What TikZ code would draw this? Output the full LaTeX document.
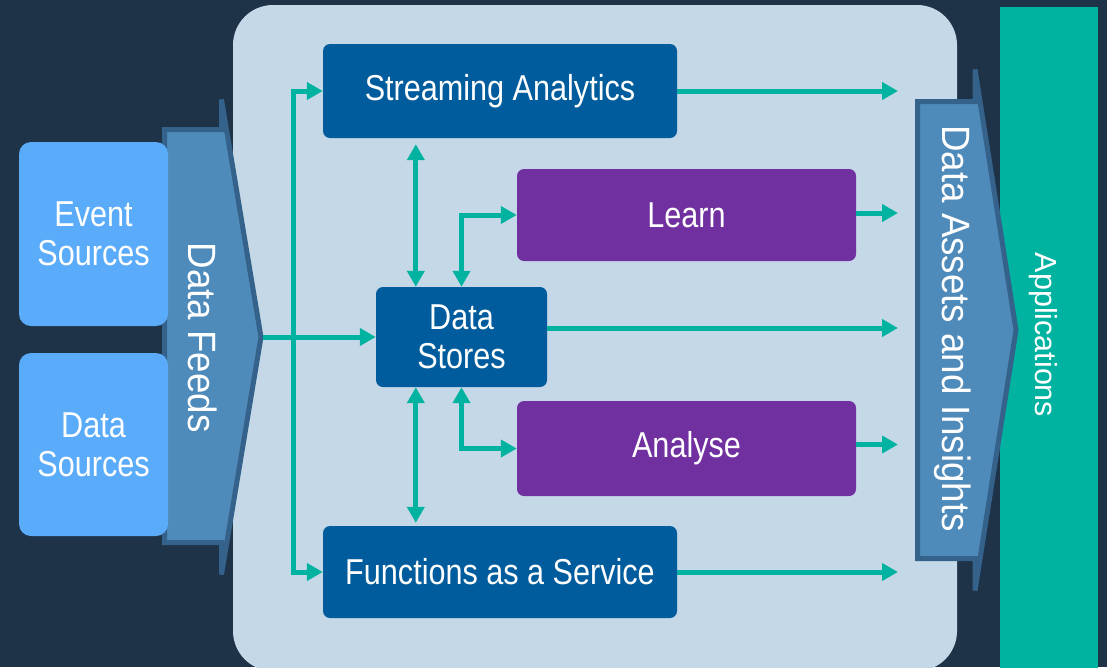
\documentclass[tikz,border=0pt]{standalone}
\usepackage{fontspec}
\usetikzlibrary{arrows.meta,calc}
\newfontfamily\boxfont[FakeStretch=0.85]{Liberation Sans}
\newfontfamily\rotfont[FakeStretch=0.93]{Liberation Sans}
\newfontfamily\appfont{Liberation Sans}
\definecolor{bgnavy}{HTML}{1E3348}
\definecolor{panelc}{HTML}{C5D8E8}
\definecolor{srcblue}{HTML}{5AABF9}
\definecolor{arrfill}{HTML}{4E8BBB}
\definecolor{arrborder}{HTML}{35628B}
\definecolor{darkblue}{HTML}{005C9C}
\definecolor{purp}{HTML}{7030A0}
\definecolor{tealc}{HTML}{00B2A0}
\tikzset{
  boxbase/.style={rectangle, rounded corners=7pt, inner sep=0pt, text=white, align=center,
    font=\boxfont\fontsize{36}{39}\selectfont},
  procbox/.style={boxbase, fill=darkblue},
  mlbox/.style={boxbase, fill=purp},
  srcbox/.style={boxbase, fill=srcblue, rounded corners=12pt},
  conn/.style={draw=tealc, line width=5pt, -{Triangle[length=16pt,width=17pt]}},
  biconn/.style={draw=tealc, line width=5pt, {Triangle[length=16pt,width=17pt]}-{Triangle[length=16pt,width=17pt]}},
  bigarrow/.style={fill=arrfill, draw=arrborder, line width=5pt, line join=miter},
  rottext/.style={text=white, rotate=-90, anchor=base, inner sep=0pt, font=\rotfont\fontsize{39.5}{44}\selectfont},
}
\begin{document}
\begin{tikzpicture}[x=1pt,y=-1pt]
\useasboundingbox (0,0) rectangle (1107,667);
\fill[bgnavy] (0,0) rectangle (1107,667);
% central panel
\fill[panelc, rounded corners=40pt] (233,5) rectangle (957,671);
% applications bar
\fill[tealc] (1000,7) rectangle (1098,671);
\node[text=white, rotate=-90, anchor=base, inner sep=0pt, font=\appfont\fontsize{30.5}{34}\selectfont] (apps) at (1035,335) {Applications};
% data feeds arrow
\draw[bigarrow] (164.5,129.5) -- (221.5,129.5) -- (221.5,99.5) -- (261,337) -- (221.5,574.5) -- (221.5,542.5) -- (164.5,542.5) -- cycle;
\coordinate (ftip) at (263,337);
\node[rottext] (feeds) at (188,337.5) {Data Feeds};
% data assets arrow
\draw[bigarrow] (917.5,101.5) -- (975,101.5) -- (975,69.5) -- (1016,330) -- (975,590.5) -- (975,558.5) -- (917.5,558.5) -- cycle;
\node[rottext] (assets) at (942,328.5) {Data Assets and Insights};
% sources
\node[srcbox, minimum width=149pt, minimum height=184pt] (evsrc) at (93.5,234) {Event\\Sources};
\node[srcbox, minimum width=149pt, minimum height=183pt] (dtsrc) at (93.5,444.5) {Data\\Sources};
% processing boxes
\node[procbox, minimum width=354pt, minimum height=94pt] (stream) at (500,91) {Streaming Analytics};
\node[mlbox, minimum width=339pt, minimum height=92pt] (learn) at (686.5,215) {Learn};
\node[procbox, minimum width=171pt, minimum height=100pt] (stores) at (461.5,337) {Data\\Stores};
\node[mlbox, minimum width=339pt, minimum height=95pt] (analyse) at (686.5,448.5) {Analyse};
\node[procbox, minimum width=354pt, minimum height=92pt] (faas) at (500,572) {Functions as a Service};
% connectors
\draw[conn] (ftip) -- (stores.west);
\draw[biconn, line join=miter] (stream.west) -- ++(-29,0) |- (faas.west);
\coordinate (sx) at ($(stores.north west)+(40,0)$);
\coordinate (sxb) at ($(stores.south west)+(40,0)$);
\draw[biconn, shorten <=6pt] (sx |- stream.south) -- (sx);
\draw[biconn, shorten >=3pt] (sxb) -- (sxb |- faas.north);
\draw[biconn, line join=miter] (stores.north) |- (learn.west);
\draw[biconn, line join=miter] (stores.south) |- (analyse.west);
\coordinate (outx) at (898,0);
\draw[conn] (stream.east) -- (stream.east -| outx);
\draw[conn] ($(learn.east)+(0,-2)$) -- ($(learn.east -| outx)+(0,-2)$);
\draw[conn] ($(stores.east)+(0,-9)$) -- ($(stores.east -| outx)+(0,-9)$);
\draw[conn] ($(analyse.east)+(0,-4)$) -- ($(analyse.east -| outx)+(0,-4)$);
\draw[conn] (faas.east) -- (faas.east -| outx);
\end{tikzpicture}
\end{document}
